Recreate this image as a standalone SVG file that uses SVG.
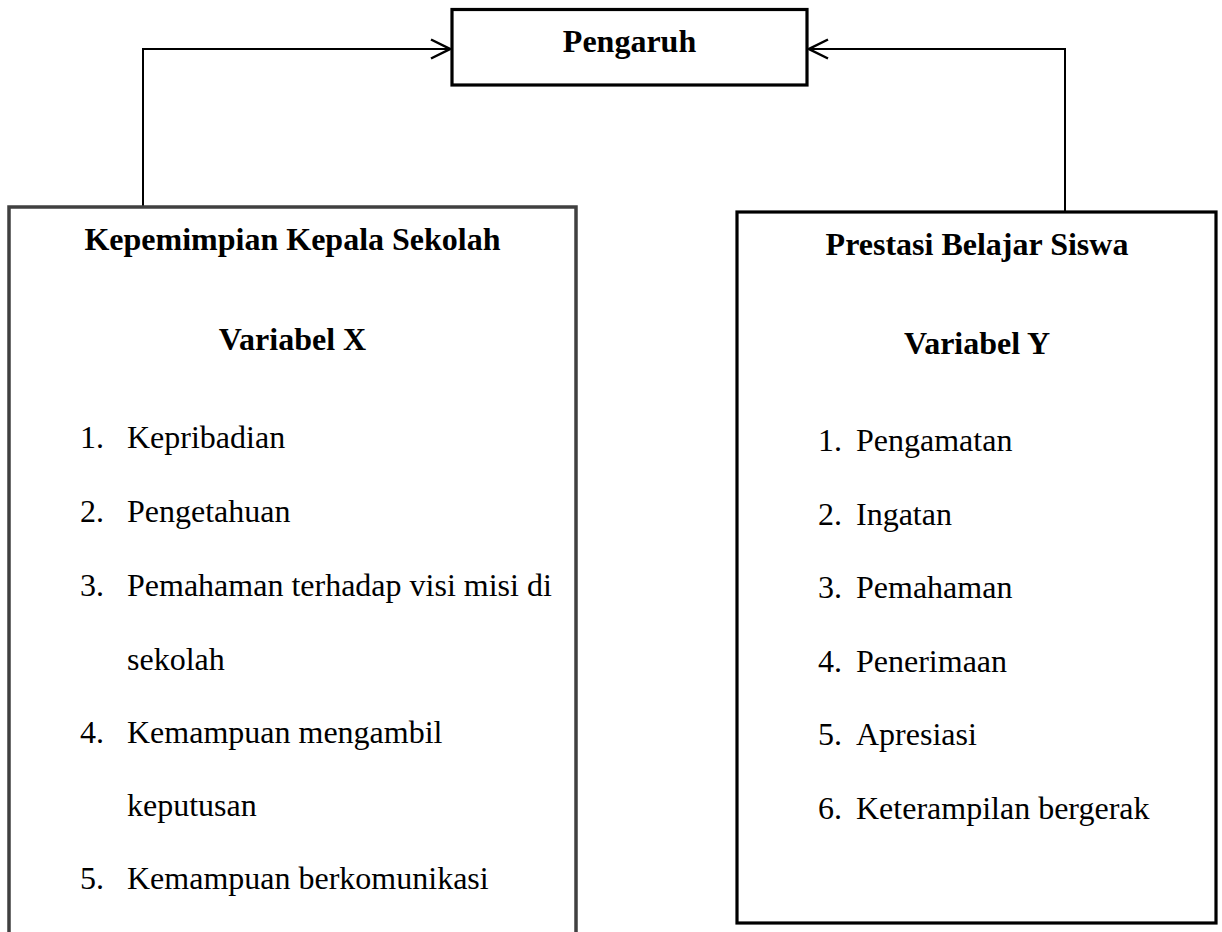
<svg xmlns="http://www.w3.org/2000/svg" width="1222" height="932" viewBox="0 0 1222 932">
<style>
.bg{fill:#fff}
.box{fill:#fff;stroke:#000;stroke-width:3.2}
.boxg{fill:#fff;stroke:#404040;stroke-width:3.5}
.conn{fill:none;stroke:#000;stroke-width:2}
.h{font-family:"Liberation Serif","Times New Roman",serif;font-size:32px;font-weight:bold;fill:#000;text-anchor:middle}
.t{font-family:"Liberation Serif","Times New Roman",serif;font-size:32px;fill:#000}
</style>
<defs>
<marker id="arr" viewBox="-22 -12 24 24" refX="0" refY="0" markerWidth="24" markerHeight="24" markerUnits="userSpaceOnUse" orient="auto">
<path d="M-19,-9.5 L0,0 L-19,9.5" fill="none" stroke="#000" stroke-width="2.5"/>
</marker>
</defs>
<rect class="bg" x="0" y="0" width="1222" height="932"/>
<g id="connectors">
<path class="conn" d="M143,207 V49 H450" marker-end="url(#arr)"/>
<path class="conn" d="M1065,212 V49 H809" marker-end="url(#arr)"/>
</g>
<g id="pengaruh">
<rect class="box" x="452" y="9.5" width="355" height="75.5"/>
<text class="h" x="629.5" y="52">Pengaruh</text>
</g>
<g id="variabel-x">
<rect class="boxg" x="9" y="207" width="567" height="760"/>
<text class="h" x="292.5" y="250">Kepemimpian Kepala Sekolah</text>
<text class="h" x="292.5" y="350">Variabel X</text>
<text class="t" x="80" y="448">1.</text><text class="t" x="127" y="448">Kepribadian</text>
<text class="t" x="80" y="522">2.</text><text class="t" x="127" y="522">Pengetahuan</text>
<text class="t" x="80" y="596">3.</text><text class="t" x="127" y="596">Pemahaman terhadap visi misi di</text>
<text class="t" x="127" y="670">sekolah</text>
<text class="t" x="80" y="743">4.</text><text class="t" x="127" y="743">Kemampuan mengambil</text>
<text class="t" x="127" y="816">keputusan</text>
<text class="t" x="80" y="889">5.</text><text class="t" x="127" y="889">Kemampuan berkomunikasi</text>
</g>
<g id="variabel-y">
<rect class="box" x="737" y="212" width="479" height="711"/>
<text class="h" x="977" y="255">Prestasi Belajar Siswa</text>
<text class="h" x="977" y="354">Variabel Y</text>
<text class="t" x="818" y="451">1.</text><text class="t" x="856" y="451">Pengamatan</text>
<text class="t" x="818" y="525">2.</text><text class="t" x="856" y="525">Ingatan</text>
<text class="t" x="818" y="598">3.</text><text class="t" x="856" y="598">Pemahaman</text>
<text class="t" x="818" y="672">4.</text><text class="t" x="856" y="672">Penerimaan</text>
<text class="t" x="818" y="745">5.</text><text class="t" x="856" y="745">Apresiasi</text>
<text class="t" x="818" y="819">6.</text><text class="t" x="856" y="819">Keterampilan bergerak</text>
</g>
</svg>
